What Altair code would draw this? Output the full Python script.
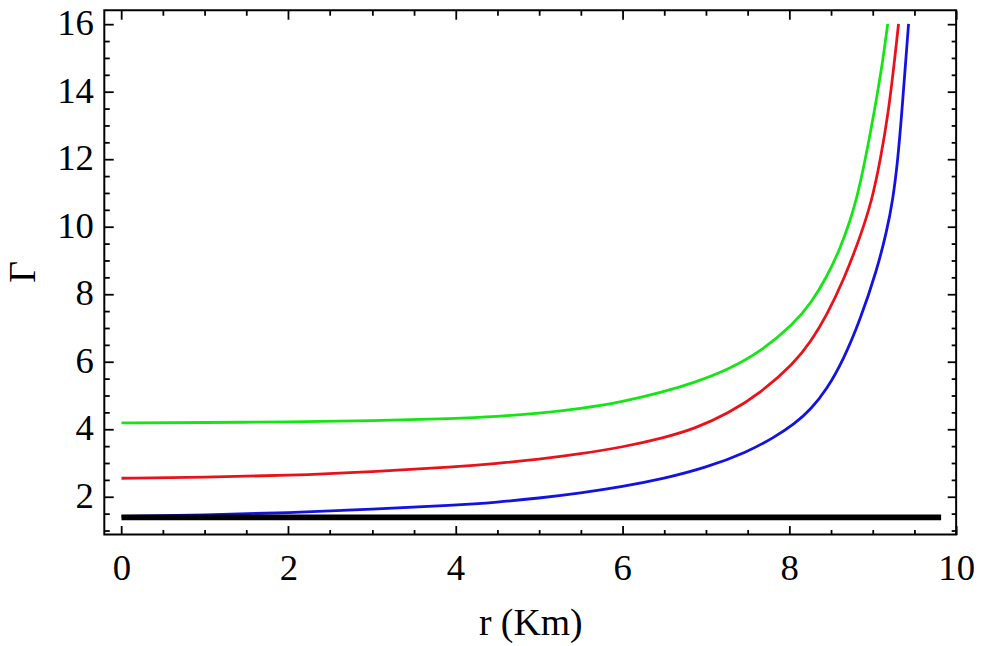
import altair as alt
import pandas as pd

# ---- data ----
green_r = [0, 1, 2, 3, 4, 4.5, 5, 5.5, 6, 6.5, 6.87, 7.27, 7.66, 8.06, 8.26, 8.45, 8.61, 8.73, 8.80, 8.89, 9.02, 9.12, 9.18]
green_g = [4.18, 4.19, 4.21, 4.24, 4.31, 4.37, 4.46, 4.60, 4.80, 5.10, 5.38, 5.76, 6.29, 7.13, 7.72, 8.50, 9.34, 10.17, 10.76, 11.70, 13.40, 14.87, 16.0]

red_r = [0, 1, 2, 3, 4, 4.5, 5, 5.5, 6, 6.5, 6.87, 7.27, 7.66, 8.06, 8.26, 8.45, 8.65, 8.85, 8.99, 9.09, 9.19, 9.26, 9.31]
red_g = [2.54, 2.57, 2.62, 2.73, 2.88, 2.98, 3.10, 3.26, 3.46, 3.74, 4.01, 4.46, 5.07, 5.95, 6.59, 7.37, 8.40, 9.68, 10.76, 11.93, 13.40, 14.87, 16.0]

blue_r = [0, 1, 2, 3, 4, 4.5, 5, 5.5, 6, 6.5, 7, 7.5, 7.82, 8.06, 8.26, 8.45, 8.65, 8.85, 9.05, 9.17, 9.24, 9.30, 9.35, 9.395, 9.43]
blue_g = [1.41, 1.45, 1.52, 1.62, 1.74, 1.83, 1.95, 2.10, 2.29, 2.53, 2.85, 3.32, 3.75, 4.14, 4.58, 5.17, 6.05, 7.23, 8.70, 9.87, 10.76, 11.93, 13.40, 14.87, 16.0]

black_r = [0, 9.82]
black_g = [1.38, 1.38]

series_names = ["green", "red", "blue"]
series_colors = ["#14e614", "#ea1219", "#1212e2"]

x_ticks = [i * 0.5 for i in range(21)]
y_ticks = [1 + i * 0.5 for i in range(31)]

rows = []
for name, xs, ys in [("green", green_r, green_g), ("red", red_r, red_g), ("blue", blue_r, blue_g)]:
    for i, (a, b) in enumerate(zip(xs, ys)):
        rows.append({"series": name, "r": a, "g": b, "i": i})
df = pd.DataFrame(rows)
df_black = pd.DataFrame({"r": black_r, "g": black_g})

FONT = "Liberation Serif"
TICK = {"condition": {"test": "datum.value % 2 === 0", "value": -9}, "value": -5}
LABEL_EXPR = "datum.value % 2 === 0 ? '' + datum.value : ''"

xscale = alt.Scale(domain=[-0.206, 10], nice=False, zero=False)
yscale = alt.Scale(domain=[0.874, 16.403], nice=False, zero=False)

common = dict(tickSize=TICK, tickWidth=1.8, tickColor="black", tickCap="butt",
              domain=False, grid=False)

axis_bottom = alt.Axis(orient="bottom", values=x_ticks, labelExpr=LABEL_EXPR,
                       labelFont=FONT, labelFontSize=37, labelColor="black",
                       labelPadding=54.7, labelBaseline="alphabetic",
                       labelFlush=False, labelOverlap=False, labelBound=False,
                       title="r (Km)", titleFont=FONT, titleFontSize=38,
                       titleFontWeight="normal", titleColor="black",
                       titleX=429, titleY=101, titleBaseline="alphabetic",
                       titleAlign="center", titleAngle=0, **common)
axis_left = alt.Axis(orient="left", values=y_ticks, labelExpr=LABEL_EXPR,
                     labelFont=FONT, labelFontSize=37, labelColor="black",
                     labelPadding=20, labelBaseline="middle", labelAlign="right",
                     labelFlush=False, labelOverlap=False, labelBound=False,
                     title="Γ", titleFont=FONT, titleFontSize=38,
                     titleFontWeight="normal", titleColor="black",
                     titleX=-70, titleY=263, titleBaseline="alphabetic",
                     titleAlign="center", titleAngle=270, **common)
axis_top = alt.Axis(orient="top", values=x_ticks, labels=False, title=None, **common)
axis_right = alt.Axis(orient="right", values=y_ticks, labels=False, title=None, **common)

curves = alt.Chart(df).mark_line(strokeWidth=2.8, interpolate="basis").encode(
    x=alt.X("r:Q", scale=xscale, axis=axis_bottom),
    y=alt.Y("g:Q", scale=yscale, axis=axis_left),
    color=alt.Color("series:N", scale=alt.Scale(domain=series_names, range=series_colors), legend=None),
    order="i:Q",
)

black = alt.Chart(df_black).mark_line(strokeWidth=5.7, color="black", strokeCap="butt").encode(
    x=alt.X("r:Q", scale=xscale, axis=axis_top),
    y=alt.Y("g:Q", scale=yscale, axis=axis_right),
)

chart = alt.layer(curves, black).resolve_axis(x="independent", y="independent").properties(
    width=858, height=528,
    padding={"left": 97, "top": 0, "right": 20, "bottom": 108},
    autosize=alt.AutoSizeParams(type="none"),
    background="white",
).configure_view(stroke="black", strokeWidth=2)

chart.save("out.html", embed_options={"renderer": "svg", "actions": False})
